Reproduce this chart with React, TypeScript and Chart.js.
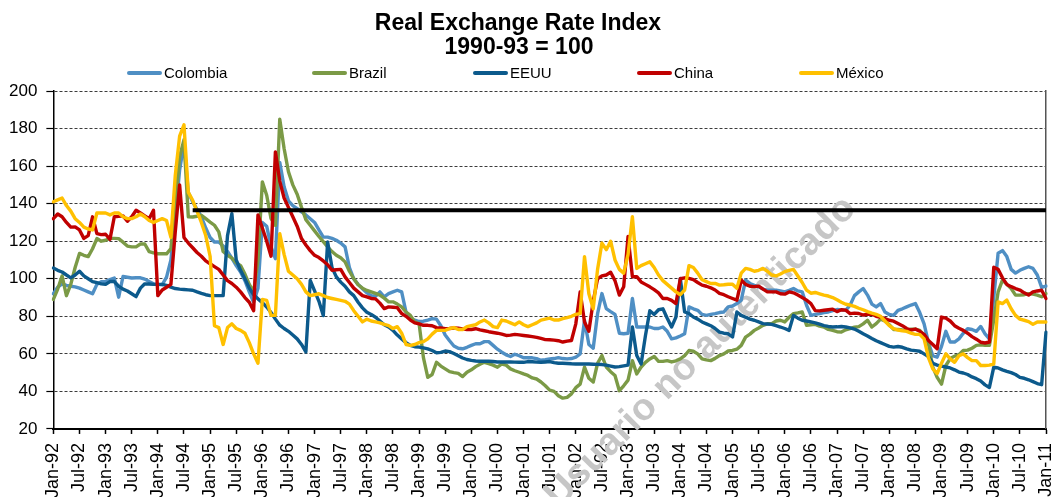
import React, { useEffect, useRef } from 'react';
import { Chart, registerables } from 'chart.js';

Chart.register(...registerables);

const FONT = "'Liberation Sans', Arial, Helvetica, sans-serif";

const MONTHS = ['Jan', 'Feb', 'Mar', 'Apr', 'May', 'Jun', 'Jul', 'Aug', 'Sep', 'Oct', 'Nov', 'Dec'];
const categories: string[] = [];
for (let y = 1992; y <= 2011; y++) {
  for (let m = 0; m < 12; m++) {
    if (y === 2011 && m > 0) break;
    categories.push(`${MONTHS[m]}-${String(y % 100).padStart(2, '0')}`);
  }
}

const tickLabels = [
  'Jan-92', 'Jul-92', 'Jan-93', 'Jul-93', 'Jan-94', 'Jul-94', 'Jan-95', 'Jul-95', 'Jan-96', 'Jul-96',
  'Jan-97', 'Jul-97', 'Jan-98', 'Jul-98', 'Jan-99', 'Jul-99', 'Jan-00', 'Jul-00', 'Jan-01', 'Jul-01',
  'Jan-02', 'Jul-02', 'Jan-03', 'Jul-03', 'Jan-04', 'Jul-04', 'Jan-05', 'Jul-05', 'Jan-06', 'Jul-06',
  'Jan-07', 'Jul-07', 'Jan-08', 'Jul-08', 'Jan-09', 'Jul-09', 'Jan-10', 'Jul-10', 'Jan-11',
];

const titleLines = ['Real Exchange Rate Index', '1990-93 = 100'];
const watermark = 'Usuario no autenticado';

const colombia = [
  92, 95.5, 97.3, 96.5, 96, 95.7, 95, 94, 93, 92, 97, 98.4,
  98.6, 99.5, 100.4, 90.2, 101.2, 100.8, 100.4, 100.5, 100.5, 99.8, 98.5, 97.3,
  97, 96.8, 100.9, 110, 133, 158, 172, 146, 141, 137, 133, 127,
  122, 119.6, 119.6, 117.5, 114.5, 111, 107, 103.6, 99, 93, 87.5, 95,
  130, 128, 117, 110.7, 162, 149, 141.5, 139, 137.4, 135.6, 134, 132,
  130, 126, 122.2, 122.2, 121.5, 120.5, 119, 117, 106, 100, 97, 94.7,
  92.5, 91, 90.7, 93, 90.4, 92.1, 93, 93.9, 93, 82.3, 79, 77.9,
  77.2, 77.4, 78, 78.8, 78.5, 75, 70, 67, 64.2, 63, 62.7, 63.5,
  64.5, 65.4, 65.4, 66.5, 66.5, 64.5, 62.5, 60.9, 59.5, 58.6, 59.8, 59,
  57.9, 57.9, 57.9, 57.5, 56.6, 56.9, 57.3, 57.5, 58, 57.5, 57.3, 57.5,
  58.2, 60, 77.9, 65, 63, 81.4, 92.1, 84.1, 82.5, 81, 71, 70.7,
  71, 89.5, 74.3, 74.3, 74.3, 74.3, 73.5, 73.5, 74.3, 72, 68, 68.5,
  69.5, 70.7, 85, 84, 83.2, 81, 80.5, 81, 81.4, 82, 82.3, 85,
  85.5, 86.8, 88.6, 99.3, 97.5, 96.5, 95.7, 94.5, 93.9, 93.9, 93.9, 93.5,
  93, 93.8, 94.8, 93.5, 93, 85.9, 80.5, 81, 81.4, 82, 82.3, 83,
  83.6, 83.4, 83.2, 85.9, 91, 93, 94.8, 91.3, 86.5, 85, 86.8, 82.3,
  81, 80.5, 83.2, 84, 85, 86, 86.8, 82, 76, 66, 59, 58.2,
  64, 72, 66.3, 66.3, 68, 71, 73.4, 73, 72, 74.6, 70.7, 68,
  90, 113.6, 115, 111.8, 105, 103, 104.5, 105.5, 106.4, 105.5, 102, 95.4,
  96.1,
];

const brazil = [
  89, 94.5, 101.5, 91, 97, 106, 113.5, 112.5, 111.8, 116, 121.4, 120,
  120.5, 121.5, 121.5, 121.4, 119.5, 117.4, 117, 117, 118.5, 118.5, 114.5, 113.8,
  113.3, 113.3, 113.3, 116, 140, 165, 174, 133, 132.9, 133.3, 133.8, 132,
  130.2, 128.5, 125, 114.5, 112.5, 111, 108.5, 107, 102.5, 97, 93, 110,
  151.6, 144.5, 132, 128.5, 185, 169.4, 157, 150, 145, 138, 131.5, 128.5,
  125.5, 122.5, 119.8, 117, 114.5, 112.5, 111.2, 109, 104, 100, 96.8, 95,
  93.8, 93, 92.2, 91.3, 89.7, 87.7, 87.7, 86.5, 85, 82.3, 80.5, 77,
  76.1, 58, 47.5, 49, 55.5, 53.5, 52, 50.5, 50, 49.6, 47.9, 50.2,
  51.5, 53.2, 54.5, 55.5, 54.8, 54, 52.9, 54.6, 54, 52, 51, 50.2,
  49.3, 48.5, 47.2, 46.6, 45, 43, 40.7, 40, 37.7, 36.4, 36.8, 38.7,
  42, 43.9, 52.9, 47, 45, 55, 59.1, 53, 50.5, 48.5, 40.4, 43,
  46, 56.4, 49.3, 53, 55.5, 57.3, 58.6, 56, 56, 56.4, 55.7, 56.3,
  57.3, 59, 61.8, 61.4, 60, 57.3, 56.8, 56.4, 57.6, 59.1, 60, 61.5,
  61.8, 62.5, 64.5, 68.9, 70.5, 72.5, 73.8, 75.2, 76, 76.1, 77.5, 77.9,
  77, 79.5, 81.4, 81.8, 82.3, 75.2, 75.5, 75.7, 74.8, 74.3, 73, 72.5,
  71.8, 71.6, 72.8, 73.4, 74.2, 74.5, 76, 77.9, 74.3, 76.1, 78.5, 77.5,
  75.5, 73, 73, 72.7, 72.5, 73.2, 73.2, 72.5, 70, 65.4, 52.9, 47.5,
  43.9, 53.8, 57.5, 58.8, 59.5, 61.8, 62, 63, 64.5, 64.8, 64.6, 64.5,
  78, 93, 99.3, 97, 94.8, 91.3, 91.3, 91.5, 92.1, 91.8, 91.3, 90.4,
  92.1,
];

const eeuu = [
  105.7, 104.5, 103.6, 102, 100.5, 102, 104, 101.5, 100, 98.5, 97.9, 97.3,
  97, 98.5, 98.5, 96, 94.5, 93.5, 92, 90.5, 95, 97.3, 97.2, 97,
  97, 97, 96.5, 95.5, 94.8, 94.5, 94.3, 94.1, 93.9, 93, 92.2, 91.5,
  91, 91, 91, 91, 123, 134.7, 110, 104.5, 100, 95, 91.5, 89.3,
  87.3, 85, 82, 78.5, 75.3, 73.5, 72, 70, 68, 65, 61, 99.1,
  93.5, 88, 80.4, 119.6, 106, 101, 98.2, 96, 93, 91, 87.5, 84.5,
  82.2, 81, 79.5, 77.5, 75.5, 74.3, 72.5, 70, 68, 66, 64.5, 63.8,
  63.6, 63.2, 62.7, 61.8, 60.6, 60.8, 61.5, 61.2, 60.2, 59, 57.8, 57,
  56.5, 56.2, 56.1, 56.1, 56.1, 55.9, 55.7, 55.7, 55.7, 55.7, 55.6, 55.5,
  55.5, 55.9, 55.8, 55.6, 55.5, 55.7, 55.9, 55.3, 55, 55, 54.9, 54.7,
  54.6, 54.6, 54.6, 54.6, 54.5, 54.4, 54.3, 54, 53.5, 53, 53.2, 53.6,
  54, 74.3, 59.1, 54.6, 69.8, 83, 81, 83.5, 84, 79, 74.3, 79.6,
  100.2, 82.3, 81.5, 79.6, 78.5, 77, 76, 75, 73.5, 71.6, 71, 70.7,
  69, 82.3, 80.5, 79.5, 78.5, 77.9, 77, 76.1, 75.9, 75.7, 75, 74.3,
  73.5, 72.5, 80.5, 79, 77.9, 77.5, 77, 76.5, 75.8, 75, 74.6, 74.3,
  74.4, 74.6, 74.3, 73.8, 73.2, 72, 70.7, 69.5, 68.2, 67, 66, 65,
  64, 63.6, 63.9, 63.5, 62.7, 62, 61.7, 61.4, 60, 58.5, 55, 54,
  53.5, 53, 52.5, 51.5, 50.3, 49.8, 49, 47.7, 46.8, 45.5, 43.5, 42.1,
  52.9, 52.5, 51.5, 50.7, 50, 49, 47.5, 47, 46.2, 45.2, 44.2, 43.6,
  71.6,
];

const china = [
  132, 134.5, 133, 130, 127.5, 127.6, 126, 121.5, 123, 133, 124, 123.5,
  123.7, 121, 133, 133.2, 133.5, 130.6, 133, 136.5, 135, 133.5, 132, 136.5,
  91, 94, 95.5, 97, 125, 150, 122, 119, 116.5, 114, 112, 109.5,
  108, 106.5, 105, 102, 99, 97.5, 95.5, 93, 90, 87.5, 83, 134,
  127, 120, 112, 167.6, 152, 143, 138, 133, 128, 121.4, 118, 115,
  112.5, 111.3, 109.5, 107.5, 104.5, 104.8, 105, 101, 98, 95, 93, 91,
  90.3, 89.5, 89.3, 87, 84.1, 85, 84.8, 84.6, 81.5, 80, 78, 76.5,
  76, 75.2, 75.2, 75, 74, 73.8, 73.4, 73.5, 73.8, 73.7, 73.3, 73,
  73, 73.4, 72.8, 72.3, 71.8, 71.4, 71, 70.5, 69.8, 70, 70.4, 70.1,
  69.8, 69.5, 69.2, 68.8, 68.2, 67.6, 67.5, 67.3, 67, 66.3, 66.8, 67.1,
  76, 93, 77, 72, 88, 100, 101.5, 102, 103.5, 99, 91.3, 95.7,
  122.5, 101.1, 101.1, 98.3, 97, 95.7, 94.2, 92.5, 89.5, 89.5, 88.5, 86.8,
  100, 100.5, 100.2, 99.5, 98, 96.6, 96, 95.2, 94, 92.2, 91.5, 90.4,
  89.5, 88.6, 99.3, 97, 96, 95.8, 96.1, 94.5, 93, 93, 93, 92,
  91.8, 93, 92.5, 91.3, 90, 88.6, 86.8, 83, 82.9, 83.2, 83.5, 83.8,
  82.5, 83.5, 83.3, 81.4, 81.7, 81.5, 80.7, 81, 81.2, 80, 79.5, 78.8,
  77.9, 77.4, 76.2, 75, 73.5, 72.7, 73.2, 72, 70.4, 67.1, 65, 62.7,
  79.6, 79, 77.5, 75, 73.6, 72.5, 71, 69.2, 67.8, 66.2, 65.8, 66.3,
  106.1, 105, 100.5, 97, 95.8, 94.8, 94, 92.5, 91.3, 93, 93.5, 93.9,
  89.5,
];

const mexico = [
  141, 142, 143, 139, 136, 132, 130, 127.5, 126.5, 126, 135, 135,
  135, 134, 135, 135, 133, 132, 132, 133, 134.5, 133, 131, 130,
  131, 132, 131, 122, 155, 176, 182, 146, 141.8, 136, 130, 123,
  112, 75, 74, 65, 74, 76, 73.5, 72.5, 71, 66, 60, 55,
  89, 88.5, 80.5, 80.5, 124, 113, 104, 102, 100, 97, 93, 91,
  91.5, 92, 91, 90, 89.5, 89, 88.5, 88, 86.5, 83, 80, 77,
  78.5, 77.5, 77, 76.5, 75.7, 75, 73.5, 74.5, 71, 65, 64.5, 65,
  66, 66.5, 68, 70.5, 72.5, 72.5, 72.5, 73.5, 74, 73, 73, 74.5,
  75, 75.5, 77, 78, 76.5, 74.5, 74, 78, 77.5, 76.5, 75.5, 77,
  75.5, 74.5, 75.5, 76.5, 78, 78.5, 79, 78, 78, 78.8, 79.3, 80,
  81, 81.4, 111.8, 92, 84, 105, 119, 115.5, 120, 110, 105, 103,
  113, 133, 105.5, 107, 108, 109, 106, 102, 99, 97, 95, 93,
  91.5, 94, 107, 106, 103, 99.5, 98.5, 97.5, 97.5, 96.6, 96.8, 97.1,
  97.1, 95, 103, 105.5, 105, 104, 104.5, 105.5, 104, 102, 101.5, 102.5,
  103.8, 104.5, 105, 101.5, 98, 94, 92.3, 92.7, 92, 91.3, 90.8, 90,
  88.8, 87.5, 86.4, 86, 85.3, 84.3, 83.5, 82.5, 81.7, 81, 80, 77.5,
  75, 73.4, 72.7, 72.3, 72, 71, 70.4, 70.4, 68, 58, 52, 49.5,
  55, 60, 57.3, 55.5, 59, 60, 58, 56.4, 56.4, 53.8, 53.8, 54,
  54.6, 87.7, 86.8, 88.6, 84, 80.5, 78.5, 77.9, 77.2, 75.7, 77, 77,
  77,
];

const referenceLevel = 136.5;
const referenceStartIndex = 32;
const referenceLine = categories.map((_, i) => (i >= referenceStartIndex ? referenceLevel : null));

const seriesNames = ['Colombia', 'Brazil', 'EEUU', 'China', 'México'];
const seriesColors = ['#4f8fc4', '#7b9a46', '#0c5a8c', '#c00000', '#ffc000'];

const legendStartX = [127, 312, 473, 637, 799];

const decorPlugin = {
  id: 'decor',
  beforeDraw(chart: any) {
    const { ctx, width, height } = chart;
    ctx.save();
    ctx.fillStyle = '#ffffff';
    ctx.fillRect(0, 0, width, height);
    ctx.restore();
  },
  beforeDatasetsDraw(chart: any) {
    const { ctx } = chart;
    ctx.save();
    ctx.translate(701, 352);
    ctx.rotate(-Math.PI / 4);
    ctx.font = `bold 38px ${FONT}`;
    ctx.fillStyle = '#c6c6c6';
    ctx.textAlign = 'center';
    ctx.textBaseline = 'middle';
    ctx.fillText(watermark, 0, 0);
    ctx.restore();
  },
  afterDraw(chart: any) {
    const { ctx } = chart;
    ctx.save();
    ctx.fillStyle = '#000';
    ctx.textAlign = 'center';
    ctx.textBaseline = 'alphabetic';
    ctx.font = `bold 23px ${FONT}`;
    ctx.fillText(titleLines[0], 518, 30);
    ctx.fillText(titleLines[1], 519, 54);
    ctx.font = `15px ${FONT}`;
    ctx.textAlign = 'left';
    ctx.textBaseline = 'middle';
    const ds = chart.data.datasets.filter((d: any) => seriesNames.includes(d.label));
    ds.forEach((d: any, i: number) => {
      const x = legendStartX[i];
      const y = 73;
      ctx.strokeStyle = d.borderColor;
      ctx.lineWidth = 4;
      ctx.lineCap = 'round';
      ctx.beginPath();
      ctx.moveTo(x + 2, y);
      ctx.lineTo(x + 33, y);
      ctx.stroke();
      ctx.fillStyle = '#000';
      ctx.fillText(d.label, x + 37, y + 1);
    });
    ctx.restore();
  },
};

export default function App() {
  const canvasRef = useRef<HTMLCanvasElement | null>(null);

  useEffect(() => {
    if (!canvasRef.current) return;
    const seriesData = [colombia, brazil, eeuu, china, mexico];
    const datasets: any[] = seriesNames.map((name, i) => ({
      label: name,
      data: seriesData[i],
      borderColor: seriesColors[i],
      backgroundColor: seriesColors[i],
      borderWidth: 3.4,
      pointRadius: 0,
      tension: 0,
      fill: false,
      order: 5 - i,
      borderJoinStyle: 'round',
      borderCapStyle: 'round',
    }));
    datasets.push({
      label: '',
      data: referenceLine,
      borderColor: '#000000',
      backgroundColor: '#000000',
      borderWidth: 4,
      pointRadius: 0,
      tension: 0,
      fill: false,
      order: 0,
      spanGaps: false,
    });

    const tickSet = new Set(tickLabels);

    const chart = new Chart(canvasRef.current, {
      type: 'line',
      data: { labels: categories, datasets },
      plugins: [decorPlugin],
      options: {
        animation: false,
        responsive: false,
        maintainAspectRatio: false,
        layout: { autoPadding: false, padding: { top: 91, left: 0, right: 7, bottom: -10 } },
        plugins: {
          legend: { display: false },
          title: { display: false },
          tooltip: { enabled: false },
        },
        scales: {
          x: {
            type: 'category',
            offset: false,
            grid: {
              display: true,
              drawOnChartArea: false,
              drawTicks: true,
              tickLength: 5,
              tickColor: '#000',
              tickWidth: 1.5,
            },
            border: { display: true, color: '#000', width: 2 },
            ticks: {
              autoSkip: false,
              maxRotation: 90,
              minRotation: 90,
              padding: 9,
              color: '#000',
              font: { family: FONT, size: 18 },
            },
            afterBuildTicks: (scale: any) => {
              scale.ticks = scale.ticks.filter((t: any) => tickSet.has(categories[t.value]));
            },
            afterFit: (scale: any) => {
              scale.paddingLeft = 0;
              scale.paddingRight = 0;
            },
          },
          y: {
            min: 20,
            max: 200,
            ticks: {
              stepSize: 20,
              padding: 9,
              color: '#000',
              font: { family: FONT, size: 17 },
            },
            grid: {
              color: '#3c3c3c',
              lineWidth: 1,
              drawTicks: true,
              tickLength: 7,
              tickColor: '#000',
              tickWidth: 1.2,
              tickBorderDash: [],
            },
            border: { display: true, color: '#000', width: 1.5, dash: [3, 2] },
            afterFit: (scale: any) => {
              scale.paddingTop = 0;
              scale.paddingBottom = 0;
            },
          },
          yR: {
            position: 'right',
            min: 20,
            max: 200,
            ticks: { display: false },
            grid: { display: false, drawTicks: false },
            border: { display: true, color: '#555', width: 1.5 },
            afterFit: (scale: any) => {
              scale.paddingTop = 0;
              scale.paddingBottom = 0;
            },
          },
        },
      } as any,
    });
    return () => chart.destroy();
  }, []);

  return (
    <div style={{ position: 'fixed', left: 0, top: 0, width: 1053, height: 497, background: '#fff' }}>
      <canvas ref={canvasRef} width={1053} height={497} style={{ display: 'block' }} />
    </div>
  );
}
